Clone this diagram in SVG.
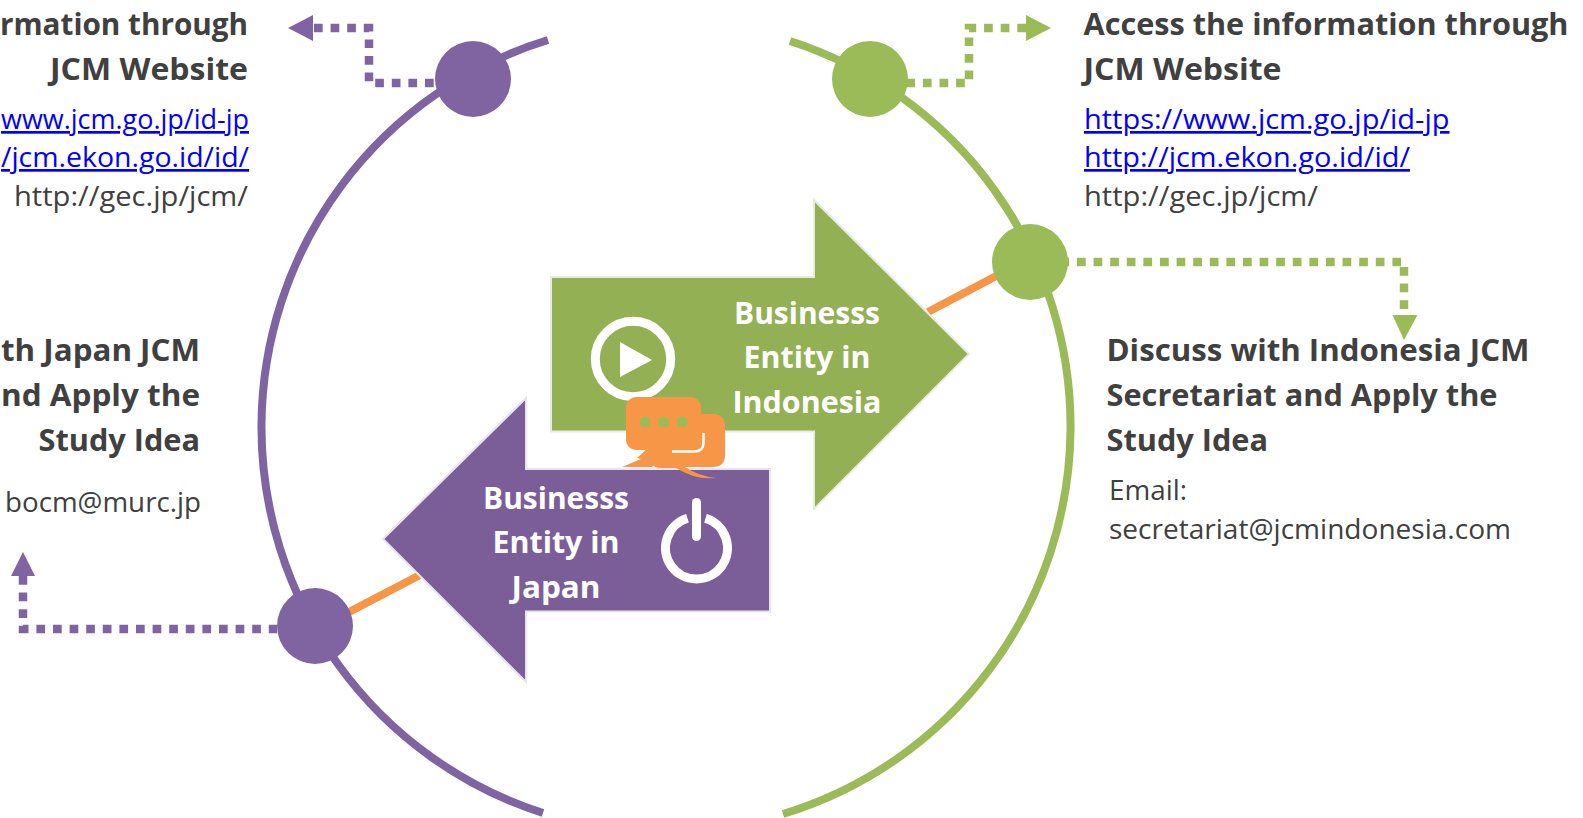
<svg xmlns="http://www.w3.org/2000/svg" width="1583" height="818" viewBox="0 0 1583 818">
<style>
text{font-family:"Open Sans","Liberation Sans",sans-serif}
.h{font-size:31px;font-weight:700;fill:#404040}
.b{font-size:27px;fill:#404040}
.l{font-size:27px;fill:#0000ff;text-decoration:underline}
.w{font-size:30px;font-weight:700;fill:#fff;text-anchor:middle}
.e{text-anchor:end}
.pd{fill:none;stroke:#8064a2;stroke-width:8.500;stroke-dasharray:8.700 7.900}
.gd{fill:none;stroke:#9bbb59;stroke-width:8.500;stroke-dasharray:8.700 7.900}
.p{fill:#8064a2}.g{fill:#9bbb59}
</style>
<rect width="1583" height="818" fill="#fff"/>
<g id="connectors">
<path d="M548 40A405 405 0 0 0 543 813" fill="none" stroke="#8064a2" stroke-width="8"/>
<path d="M790 41A405 405 0 0 1 783 814" fill="none" stroke="#9bbb59" stroke-width="8"/>
<path d="M349 612L420 575" stroke="#f79646" stroke-width="8" fill="none"/>
<path d="M928 312L1000 274" stroke="#f79646" stroke-width="8" fill="none"/>
<path class="pd" d="M314 28H369V83H436"/><path class="p" d="M288 28L313 15V41Z"/>
<path class="gd" d="M1026 28H969V83H905"/><path class="g" d="M1051 28L1026 15V41Z"/>
<path class="pd" d="M23 576V629H277"/><path class="p" d="M23 552L35 576H11Z"/>
<path class="gd" d="M1060.400 262H1404V313"/><path class="g" d="M1404 340L1392.500 315H1417.500Z"/>
</g>
<g id="node-indonesia">
<path d="M551 277H814V200L969 354L814 509V431.500H551Z" fill="#94b055" stroke="#e8ecdf" stroke-width="2"/>
<circle cx="633" cy="359" r="37.700" fill="none" stroke="#fff" stroke-width="9"/>
<path d="M620 342L652 360L620 377Z" fill="#fff"/>
<text class="w" x="807" y="324" textLength="146" lengthAdjust="spacingAndGlyphs">Businesss</text>
<text class="w" x="807" y="368" textLength="127" lengthAdjust="spacingAndGlyphs">Entity in</text>
<text class="w" x="807" y="413" textLength="149" lengthAdjust="spacingAndGlyphs">Indonesia</text>
</g>
<g id="node-japan">
<path d="M770 469H526V398L383 539L526 682V611.500H770Z" fill="#7b5e98" stroke="#e8e4ee" stroke-width="2"/>
<path d="M687.500 518.300A31 31 0 1 0 705.500 518.300" fill="none" stroke="#fff" stroke-width="9"/>
<rect x="692" y="498" width="9" height="43" rx="4.500" fill="#fff"/>
<text class="w" x="556" y="509" textLength="146" lengthAdjust="spacingAndGlyphs">Businesss</text>
<text class="w" x="556" y="553" textLength="127" lengthAdjust="spacingAndGlyphs">Entity in</text>
<text class="w" x="556" y="598" textLength="89" lengthAdjust="spacingAndGlyphs">Japan</text>
</g>
<g id="node-chat">
<path d="M662 414H713Q725 414 725 426V455Q725 467 713 467H685Q698 476 716 478Q695 480 676 468H662Q652 468 650 462L660 440Z" fill="#f79646"/>
<path d="M703.500 433V443Q703.500 451.500 694 451.500H672" fill="none" stroke="#fff" stroke-width="2.500"/>
<rect x="626" y="397" width="75" height="53" rx="10" fill="#f79646"/>
<path d="M648 448L637 458L641 459L622 467L652 467L672 449Z" fill="#f79646"/>
<circle cx="645" cy="422" r="5.500" class="g"/><circle cx="663.500" cy="422" r="5.500" class="g"/><circle cx="682" cy="422" r="5.500" class="g"/>
</g>
<g id="node-purple-top"><circle class="p" cx="473" cy="79" r="38"/></g>
<g id="node-green-top"><circle class="g" cx="870" cy="79" r="38"/></g>
<g id="node-green-mid"><circle class="g" cx="1030" cy="262" r="38"/></g>
<g id="node-purple-low"><circle class="p" cx="315" cy="626" r="38"/></g>
<g id="text-left-top">
<text class="h e" x="248" y="35" textLength="248" lengthAdjust="spacingAndGlyphs">rmation through</text>
<text class="h e" x="248" y="80" textLength="198" lengthAdjust="spacingAndGlyphs">JCM Website</text>
<text class="l e" x="249" y="129" textLength="248" lengthAdjust="spacingAndGlyphs">www.jcm.go.jp/id-jp</text>
<text class="l e" x="249" y="167" textLength="248" lengthAdjust="spacingAndGlyphs">/jcm.ekon.go.id/id/</text>
<text class="b e" x="248" y="206" textLength="234" lengthAdjust="spacingAndGlyphs">http://gec.jp/jcm/</text>
</g>
<g id="text-left-mid">
<text class="h e" x="200" y="361" textLength="199" lengthAdjust="spacingAndGlyphs">th Japan JCM</text>
<text class="h e" x="200" y="406" textLength="199" lengthAdjust="spacingAndGlyphs">nd Apply the</text>
<text class="h e" x="200" y="451" textLength="161.500" lengthAdjust="spacingAndGlyphs">Study Idea</text>
<text class="b e" x="201" y="512" textLength="196" lengthAdjust="spacingAndGlyphs">bocm@murc.jp</text>
</g>
<g id="text-right-top">
<text class="h" x="1083.500" y="35" textLength="485" lengthAdjust="spacingAndGlyphs">Access the information through</text>
<text class="h" x="1083.500" y="80" textLength="198" lengthAdjust="spacingAndGlyphs">JCM Website</text>
<text class="l" x="1084" y="129" textLength="365.500" lengthAdjust="spacingAndGlyphs">https://www.jcm.go.jp/id-jp</text>
<text class="l" x="1084" y="167" textLength="326" lengthAdjust="spacingAndGlyphs">http://jcm.ekon.go.id/id/</text>
<text class="b" x="1084" y="206" textLength="234" lengthAdjust="spacingAndGlyphs">http://gec.jp/jcm/</text>
</g>
<g id="text-right-mid">
<text class="h" x="1106.500" y="361" textLength="423" lengthAdjust="spacingAndGlyphs">Discuss with Indonesia JCM</text>
<text class="h" x="1106.500" y="406" textLength="391" lengthAdjust="spacingAndGlyphs">Secretariat and Apply the</text>
<text class="h" x="1106.500" y="451" textLength="161.500" lengthAdjust="spacingAndGlyphs">Study Idea</text>
<text class="b" x="1109" y="500" textLength="78" lengthAdjust="spacingAndGlyphs">Email:</text>
<text class="b" x="1109" y="539" textLength="402" lengthAdjust="spacingAndGlyphs">secretariat@jcmindonesia.com</text>
</g>
</svg>
